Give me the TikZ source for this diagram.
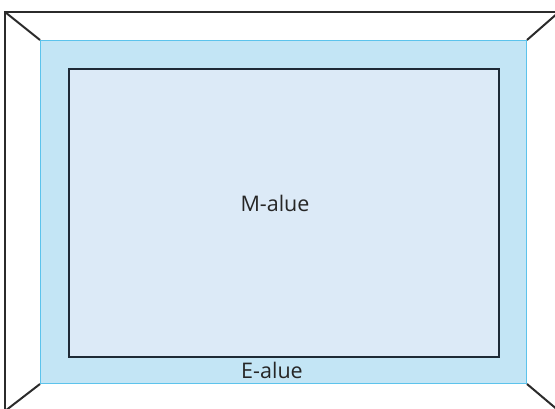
\documentclass[tikz,border=0pt]{standalone}
\usepackage{fontspec}
\setmainfont{Open Sans}
\definecolor{outerline}{HTML}{2B2B2B}
\definecolor{bandfill}{HTML}{C3E5F5}
\definecolor{bandline}{HTML}{5CC3EC}
\definecolor{corefill}{HTML}{DCEAF7}
\definecolor{coreline}{HTML}{1E2A36}
\tikzset{
  outerbox/.style={draw=outerline, line width=2pt},
  diag/.style={draw=outerline, line width=2pt},
  bandbox/.style={draw=bandline, fill=bandfill, line width=1pt},
  corebox/.style={draw=coreline, fill=corefill, line width=2pt},
  lbl/.style={font=\fontsize{21.5}{24}\selectfont, text=black!85, inner sep=0pt}
}
\begin{document}
\begin{tikzpicture}[x=1pt,y=-1pt]
\useasboundingbox (0,0) rectangle (555,408);
\clip (0,0) rectangle (555,408);
\coordinate (o1) at (5,12);
\coordinate (o2) at (559,12);
\coordinate (o3) at (559,411);
\coordinate (o4) at (5,411);
\draw[outerbox] (o1) -- (o2) -- (o3) -- (o4) -- cycle;
\node[bandbox, minimum width=486pt, minimum height=343pt, inner sep=0pt, anchor=north west] (band) at (40,40) {};
\draw[diag] (band.north west) -- (o1);
\draw[diag] (band.north east) -- (o2);
\draw[diag] (band.south east) -- (o3);
\draw[diag] (band.south west) -- (o4);
\node[corebox, minimum width=430pt, minimum height=288pt, inner sep=0pt, anchor=north west] (core) at (68,68) {};
\node[lbl] (mval) at (275,203) {M-alue};
\node[lbl] (eval) at (272,370) {E-alue};
\end{tikzpicture}
\end{document}
